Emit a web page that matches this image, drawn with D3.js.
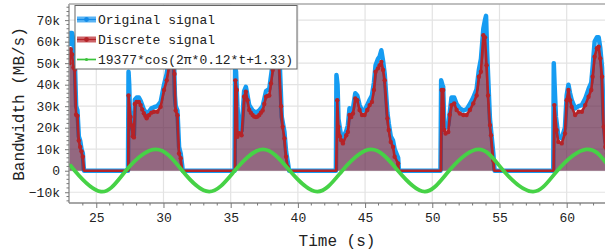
<!DOCTYPE html>
<html>
<head>
<meta charset="utf-8">
<script src="https://cdn.jsdelivr.net/npm/d3@7"></script>
<style>
  body { margin: 0; background: #fff; }
  svg { display: block; font-family: "Liberation Mono", monospace; }
</style>
</head>
<body>
<svg width="605" height="250"></svg>
<script>
// measured signal, [time (s), bandwidth (MB/s)]
var originalSignal = [
  [23.0,58000],[23.08,64000],[23.2,64000],[23.3,60000],[23.4,52000],[23.5,30000],[23.6,28000],[23.7,16000],[23.8,14000],[23.9,10000],[24.0,8000],[24.08,0],
  [27.36,0],[27.4,46000],[27.45,40000],[27.5,28000],[27.6,24000],[27.7,20000],[27.8,16500],[27.87,33000],[28.0,34000],[28.17,34000],[28.3,32500],[28.54,28500],[28.75,26500],[28.92,27500],[29.1,29000],[29.29,29500],[29.54,30000],[29.79,32000],[30.04,40000],[30.24,45000],[30.41,52000],[30.6,64000],[30.75,60000],[30.85,35000],[30.91,30000],[31.04,28000],[31.16,11000],[31.28,8000],[31.4,2000],[31.43,0],
  [35.29,0],[35.33,48000],[35.4,46000],[35.5,30000],[35.63,19000],[35.81,18500],[36.0,37000],[36.13,39000],[36.25,35000],[36.38,30500],[36.63,28000],[36.88,27000],[37.13,28000],[37.38,30000],[37.63,37000],[37.87,38000],[38.0,44000],[38.13,50000],[38.35,57000],[38.5,58000],[38.65,50000],[38.8,25000],[39.0,18000],[39.12,9000],[39.25,4000],[39.35,0],
  [42.83,0],[42.87,44500],[42.95,40000],[43.02,24000],[43.22,16000],[43.35,15000],[43.6,18500],[43.72,21000],[43.84,29000],[43.97,27500],[44.1,29000],[44.27,36000],[44.42,35000],[44.59,30500],[44.77,28000],[44.96,28000],[45.16,30500],[45.34,33000],[45.51,35000],[45.66,41000],[45.78,49000],[45.96,52000],[46.08,53000],[46.21,56000],[46.34,51000],[46.46,45000],[46.66,27000],[46.76,22000],[46.91,16000],[47.08,14000],[47.2,10000],[47.46,6000],[47.52,0],
  [50.61,0],[50.66,42000],[50.75,40000],[50.81,39000],[50.89,22000],[50.99,20000],[51.19,21000],[51.43,34000],[51.63,34000],[51.81,31000],[52.05,29000],[52.31,28000],[52.55,28500],[52.8,31000],[53.05,34000],[53.3,38000],[53.47,47000],[53.62,52000],[53.8,66000],[53.92,70000],[54.0,72000],[54.08,55000],[54.29,24000],[54.37,19000],[54.54,8000],[54.6,3000],[54.64,0],
  [59.0,0],[59.04,50000],[59.1,40000],[59.2,25000],[59.38,16000],[59.63,15000],[59.87,20000],[60.0,35000],[60.13,40000],[60.25,36000],[60.37,33000],[60.63,29000],[60.89,30000],[61.13,30500],[61.38,33500],[61.63,38000],[61.83,41000],[61.93,48000],[62.08,60000],[62.25,62000],[62.38,62000],[62.5,57000],[62.63,48000],[62.75,24000],[62.87,14000],[63.0,10000]
]

var discreteSignal = [
  [23.0,50000],[23.1,56500],[23.2,54000],[23.3,48000],[23.4,47000],[23.5,26000],[23.6,25500],[23.7,14000],[23.8,11000],[23.9,9000],[24.0,6500],[24.1,0],
  [27.38,0],[27.4,35000],[27.55,25000],[27.63,21000],[27.72,16000],[27.8,15500],[27.87,31000],[28.0,32000],[28.17,32000],[28.3,30500],[28.42,28500],[28.54,26700],[28.65,25500],[28.75,24400],[28.92,25800],[29.1,27000],[29.29,27400],[29.54,27400],[29.79,29700],[30.04,37500],[30.24,42000],[30.41,48300],[30.55,56000],[30.7,58000],[30.82,45000],[30.91,28000],[31.04,25800],[31.16,8000],[31.28,5800],[31.4,0],
  [35.31,0],[35.35,42000],[35.45,37500],[35.5,15800],[35.63,17500],[35.81,16500],[36.0,34400],[36.13,36700],[36.25,32800],[36.38,28200],[36.5,27000],[36.63,25900],[36.75,25200],[36.88,25000],[37.0,25200],[37.13,25900],[37.25,27000],[37.38,28000],[37.5,31000],[37.63,34400],[37.75,34800],[37.87,35000],[38.0,40600],[38.13,46800],[38.3,52000],[38.45,54000],[38.6,50000],[38.75,30000],[38.87,20400],[39.0,15000],[39.12,6500],[39.25,1800],[39.32,0],
  [42.85,0],[42.93,32800],[43.02,20400],[43.12,16000],[43.22,14200],[43.35,12700],[43.6,16500],[43.72,18000],[43.84,25900],[43.97,25000],[44.1,26600],[44.27,33600],[44.42,32800],[44.59,28200],[44.77,25900],[44.96,25900],[45.16,28200],[45.34,30500],[45.51,32000],[45.66,37500],[45.78,46000],[45.96,47600],[46.08,49000],[46.21,50600],[46.34,46800],[46.46,42000],[46.66,24300],[46.76,18900],[46.91,13400],[47.08,11000],[47.2,6500],[47.46,3400],[47.52,0],
  [50.63,0],[50.7,37500],[50.81,37500],[50.89,18900],[50.99,17300],[51.19,18000],[51.3,26000],[51.43,30500],[51.63,31300],[51.81,28200],[52.05,26600],[52.31,25900],[52.55,25900],[52.8,28200],[53.05,31300],[53.3,35000],[53.47,43700],[53.62,46000],[53.8,63000],[53.92,62000],[54.04,49000],[54.15,35000],[54.29,21200],[54.37,16500],[54.54,4900],[54.62,0],
  [59.02,0],[59.08,30500],[59.25,18900],[59.38,13400],[59.63,12700],[59.87,17300],[60.0,32800],[60.13,37500],[60.25,32800],[60.37,29700],[60.63,25900],[60.89,27400],[61.13,27400],[61.38,30500],[61.63,34400],[61.83,37500],[61.93,43700],[62.08,53000],[62.25,56900],[62.38,57600],[62.5,52200],[62.63,43700],[62.75,20400],[62.87,11000],[63.0,8000]
]

// fitted cosine as drawn (peaks, troughs, zero crossings)
var cosineFit = [
  [23.0,3400],[23.4,0],[25.35,-9700],[27.2,0],[29.45,9900],[31.4,0],[33.4,-9700],[35.3,0],[37.4,9900],[39.4,0],
  [41.45,-9700],[43.3,0],[45.45,9900],[47.45,0],[49.45,-9700],[51.25,0],[53.45,9900],[55.3,0],[57.5,-9700],
  [59.3,0],[61.45,9900],[62.95,3500]
]

var xTicks = [25, 30, 35, 40, 45, 50, 55, 60]
var yTicks = [-10000, 0, 10000, 20000, 30000, 40000, 50000, 60000, 70000]
var legendLabels = ["Original signal", "Discrete signal", "19377*cos(2\u03c0*0.12*t+1.33)"]

var svg = d3.select("svg")
var mLeft = 69, mTop = 4, mBottom = 203, mRight = 605

var x = d3.scaleLinear().domain([23, 63]).range([69.4, 607])
var y = d3.scaleLinear().domain([-15000, 77500]).range([mBottom, mTop])

svg.append("clipPath").attr("id", "plotclip")
  .append("rect").attr("x", mLeft).attr("y", mTop).attr("width", mRight - mLeft).attr("height", mBottom - mTop)

// grid
var grid = svg.append("g").attr("stroke", "#e3e3e3").attr("stroke-width", 1.2)
grid.selectAll(".gx").data(xTicks).enter().append("line")
  .attr("x1", d => x(d)).attr("x2", d => x(d)).attr("y1", mTop).attr("y2", mBottom)
grid.selectAll(".gy").data(yTicks).enter().append("line")
  .attr("x1", mLeft).attr("x2", mRight).attr("y1", d => y(d)).attr("y2", d => y(d))

var plot = svg.append("g").attr("clip-path", "url(#plotclip)")

var line = d3.line().x(d => x(d[0])).y(d => y(d[1]))

plot.append("path").datum(originalSignal)
  .attr("d", line).attr("fill", "none")
  .attr("stroke", "#159cf2").attr("stroke-width", 4.5).attr("stroke-linejoin", "round")

plot.append("path").datum(discreteSignal)
  .attr("d", d3.area().x(d => x(d[0])).y0(y(0)).y1(d => y(d[1])))
  .attr("fill", "#65284a").attr("fill-opacity", 0.7)

plot.append("path").datum(discreteSignal)
  .attr("d", line).attr("fill", "none")
  .attr("stroke", "#b52328").attr("stroke-width", 2.6).attr("stroke-linejoin", "round")

plot.append("g").attr("fill", "#b52328")
  .selectAll("circle").data(discreteSignal.filter(d => d[1] > 0))
  .enter().append("circle")
  .attr("cx", d => x(d[0])).attr("cy", d => y(d[1])).attr("r", 2.2)

plot.append("path").datum(cosineFit)
  .attr("d", d3.line().curve(d3.curveNatural).x(d => x(d[0])).y(d => y(d[1])))
  .attr("fill", "none").attr("stroke", "#46d246").attr("stroke-width", 3.8)

// axes
var fmt = d => d === 0 ? "0" : (d < 0 ? "\u2212" : "") + Math.abs(d / 1000) + "k"

var xAxis = svg.append("g").attr("transform", `translate(0,${mBottom})`)
  .call(d3.axisBottom(x).tickValues(xTicks).tickSize(5).tickPadding(5).tickFormat(d3.format("d")))
xAxis.append("g").selectAll("line").data(d3.range(24, 63, 1).filter(t => t % 5 != 0))
  .enter().append("line").attr("x1", d => x(d)).attr("x2", d => x(d)).attr("y1", 0).attr("y2", 2.5)
  .attr("stroke", "#777")

var yAxis = svg.append("g").attr("transform", `translate(${mLeft},0)`)
  .call(d3.axisLeft(y).tickValues(yTicks).tickSize(4).tickPadding(5).tickFormat(fmt))
yAxis.append("g").selectAll("line").data(d3.range(-14000, 77000, 2000).filter(v => v % 10000 != 0))
  .enter().append("line").attr("x1", 0).attr("x2", -2.5).attr("y1", d => y(d)).attr("y2", d => y(d))
  .attr("stroke", "#777")

svg.selectAll(".domain").attr("stroke", "#888").attr("stroke-width", 1.3)
svg.selectAll(".tick line").attr("stroke", "#777")
svg.selectAll(".tick text").attr("font-family", "Liberation Mono").attr("font-size", 13).attr("fill", "#222")
xAxis.select(".domain").attr("d", `M${mLeft},0H${mRight}`)
yAxis.select(".domain").attr("d", `M0,${mTop}V${mBottom}`)

svg.append("line").attr("x1", mLeft).attr("x2", mRight).attr("y1", mTop).attr("y2", mTop)
  .attr("stroke", "#aaa").attr("stroke-width", 1.5)

svg.append("text").attr("x", 337).attr("y", 246).attr("text-anchor", "middle")
  .attr("font-size", 16).attr("fill", "#222").text("Time (s)")
svg.append("text").attr("transform", "translate(24,104) rotate(-90)").attr("text-anchor", "middle")
  .attr("font-size", 16).attr("fill", "#222").text("Bandwidth (MB/s)")

// legend
var legend = svg.append("g")
legend.append("rect").attr("x", 75).attr("y", 5.5).attr("width", 222).attr("height", 63.5)
  .attr("fill", "#fff").attr("stroke", "#666").attr("stroke-width", 1)
var legendColors = [["#5ab4f4", "#158ce8"], ["#cd6468", "#b52328"], ["#46d246", "#3cc23c"]]
var rows = legend.selectAll(".row").data(legendLabels).enter().append("g")
  .attr("transform", (d, i) => `translate(0,${19.5 + i * 20})`)
rows.append("line").attr("x1", 77).attr("x2", 96).attr("stroke", (d, i) => legendColors[i][0])
  .attr("stroke-width", (d, i) => i < 2 ? 6 : 1.6)
rows.append("line").attr("x1", 77).attr("x2", 96).attr("stroke", (d, i) => legendColors[i][1])
  .attr("stroke-width", 1.2)
rows.append("circle").attr("cx", 86.5).attr("r", (d, i) => i < 2 ? 2.4 : 1.6).attr("fill", (d, i) => legendColors[i][1])
rows.append("text").attr("x", 98).attr("y", 4.5).attr("font-size", 13).attr("fill", "#222").text(d => d)
</script>
</body>
</html>
